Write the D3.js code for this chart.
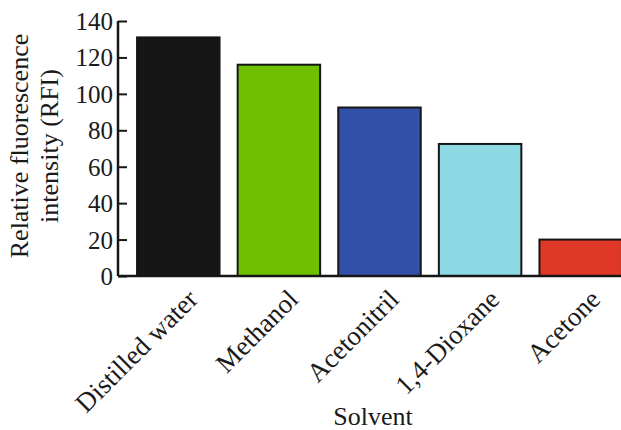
<!DOCTYPE html>
<html><head><meta charset="utf-8">
<script src="https://cdn.jsdelivr.net/npm/d3@7"></script>
<style>body{margin:0;background:#fff}svg{display:block}text{font-family:"Liberation Serif","Times New Roman",serif;fill:#1a1a1a}</style>
</head><body><svg id="c" width="621" height="430"></svg>
<script>
const categories = ["Distilled water","Methanol","Acetonitril","1,4-Dioxane","Acetone"];
const values = [131, 116, 92.5, 72.5, 20];
const colors = ["#161616","#6ec000","#3350a8","#8cd9e4","#e03826"];
const yTicks = [0,20,40,60,80,100,120,140];
const yLabelLines = ["Relative fluorescence","intensity (RFI)"];
const xTitle = "Solvent";

const svg = d3.select("#c");
const x0 = 118, yBase = 276, yTop = 21;
const x = d3.scaleBand().domain(categories).range([128, 631]).paddingInner(0.18).paddingOuter(0.09);
const y = d3.scaleLinear().domain([0,140]).range([yBase, yTop]);

svg.selectAll("rect.bar").data(categories).enter().append("rect")
  .attr("class","bar")
  .attr("x", d => x(d))
  .attr("width", x.bandwidth())
  .attr("y", (d,i) => y(values[i]))
  .attr("height", (d,i) => y(0) - y(values[i]))
  .attr("fill", (d,i) => colors[i])
  .attr("stroke", "#161616").attr("stroke-width", 2);

// y axis
const ya = svg.append("g").attr("transform", `translate(${x0},0)`)
  .call(d3.axisLeft(y).tickValues(yTicks).tickSize(-9).tickPadding(4));
ya.select(".domain").attr("d", `M0,${yTop}V${yBase}`).attr("stroke","#161616").attr("stroke-width",2.5);
ya.selectAll(".tick line").attr("stroke","#161616").attr("stroke-width",2);
ya.selectAll(".tick text").attr("font-size", 25).attr("x", -5).attr("dy","0.34em")
  .style("font-family","Liberation Serif").attr("fill","#1a1a1a");

// x axis line
svg.append("line").attr("x1", x0).attr("x2", 621).attr("y1", yBase).attr("y2", yBase)
  .attr("stroke","#161616").attr("stroke-width",2.5);

// x labels
svg.selectAll("text.xl").data(categories).enter().append("text")
  .attr("class","xl")
  .attr("transform", d => `translate(${x(d)+x.bandwidth()/2+21},${yBase+25}) rotate(-45)`)
  .attr("text-anchor","end")
  .attr("font-size", 27).text(d => d);

// y title
const yt = svg.append("text").attr("transform","translate(28,146) rotate(-90)")
  .attr("text-anchor","middle").attr("font-size", 26);
yLabelLines.forEach((l,i) => yt.append("tspan").attr("x",0).attr("dy", i===0 ? 0 : 30).text(l));

svg.append("text").attr("x", 373).attr("y", 425).attr("text-anchor","middle")
  .attr("font-size", 26).text(xTitle);
</script></body></html>
